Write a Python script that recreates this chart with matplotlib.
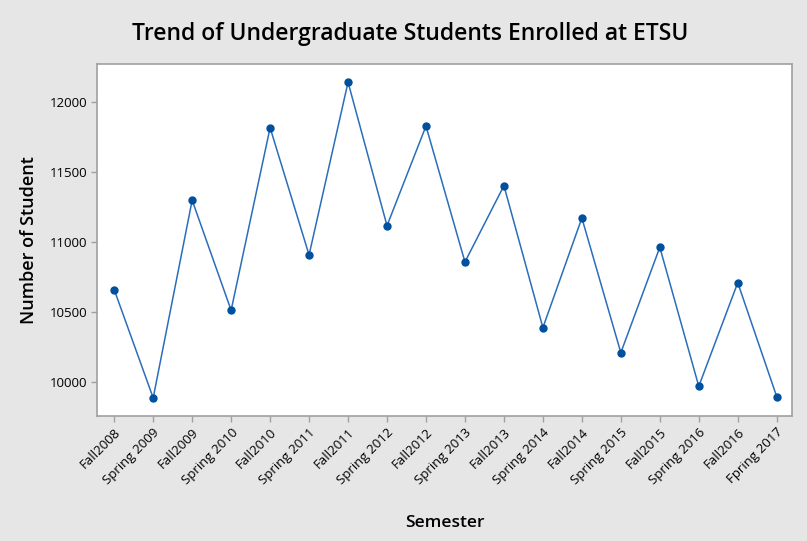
import matplotlib.pyplot as plt

semesters = ["Fall2008", "Spring 2009", "Fall2009", "Spring 2010", "Fall2010", "Spring 2011",
             "Fall2011", "Spring 2012", "Fall2012", "Spring 2013", "Fall2013", "Spring 2014",
             "Fall2014", "Spring 2015", "Fall2015", "Spring 2016", "Fall2016", "Fpring 2017"]
students = [10657, 9884, 11296, 10510, 11814, 10905, 12139, 11114, 11826, 10855,
            11400, 10386, 11169, 10207, 10960, 9967, 10707, 9893]
y_ticks = [10000, 10500, 11000, 11500, 12000]

plt.rcParams['font.family'] = ['Open Sans', 'DejaVu Sans']

fig = plt.figure(figsize=(8.07, 5.41), dpi=100, facecolor='#e6e6e6')
ax = fig.add_axes([0.1198, 0.2311, 0.862, 0.6506])
ax.set_facecolor('white')

x = list(range(len(semesters)))
ax.plot(x, students, color='#2a6ebb', linewidth=1.1, marker='o', markersize=5,
        markerfacecolor='#0050a0', markeredgecolor='#0050a0')

ax.set_xlim(-0.45, 17.4)
ax.set_ylim(9755, 12269)
ax.set_yticks(y_ticks)
ax.set_yticklabels([str(v) for v in y_ticks], fontsize=9.5)
ax.set_xticks(x)
ax.set_xticklabels(semesters, rotation=45, ha='right', rotation_mode='anchor', fontsize=9.5)

for s in ax.spines.values():
    s.set_color('#a0a0a0')
    s.set_linewidth(1.2)
ax.tick_params(axis='both', color='#a0a0a0', length=4, width=1, pad=3)

# title sits in the gray band above the plot
fig.text(0.508, 0.937, "Trend of Undergraduate Students Enrolled at ETSU",
         ha='center', va='center', fontsize=16.5, fontweight='semibold')
ax.set_xlabel("Semester", fontsize=12.5, fontweight='semibold', labelpad=20)
ax.set_ylabel("Number of Student", fontsize=13, fontweight='semibold', labelpad=8)

fig.savefig("out.png", dpi=100, facecolor=fig.get_facecolor())
